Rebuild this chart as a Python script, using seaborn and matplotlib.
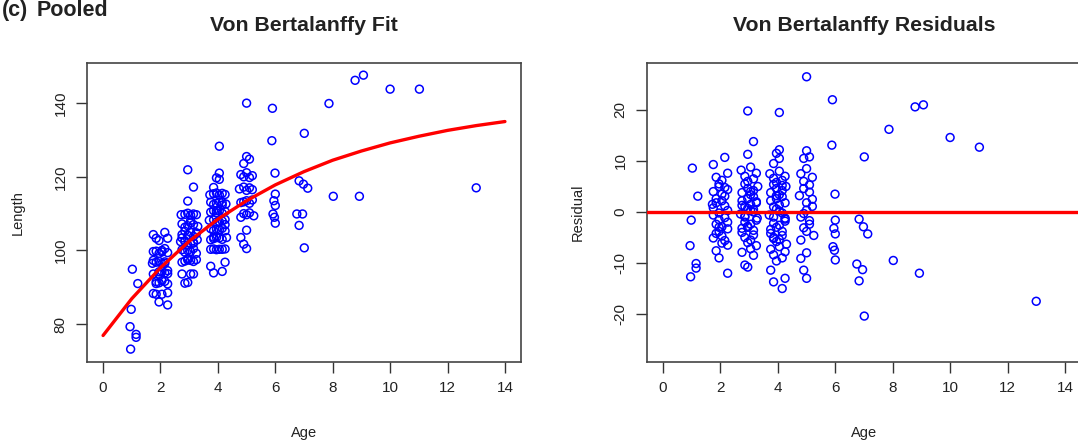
import numpy as np
import pandas as pd
import seaborn as sns
import matplotlib.pyplot as plt

# fish ages (years), one entry per fish
age = [
    1.02, 1.21, 0.98, 0.94, 1.15, 1.15, 0.96,
    2.15, 1.75, 2.25, 1.85, 2.05, 1.95, 1.95, 2.25, 1.75, 2.05, 2.15, 1.85,
    2.05, 1.85, 2.15, 1.75, 2.25, 1.95, 1.75, 2.15, 1.95, 2.25, 1.85, 2.05,
    2.25, 1.95, 1.85, 2.05, 1.75, 2.15, 2.05, 2.25, 1.85, 1.95, 1.72, 2.15, 2.25, 1.95,
    2.95, 3.15, 2.95,
    3.05, 2.72, 3.25, 2.85, 3.15, 2.95, 2.85, 3.3, 2.95, 3.15, 2.75, 3.05,
    3.15, 2.95, 2.75, 3.25, 3.05, 2.85, 2.95, 3.05, 3.15, 2.7, 2.85, 3.28,
    3.25, 2.85, 3.05, 2.95, 2.75, 3.15, 2.75, 3.15, 2.85, 3.05, 2.95, 3.25,
    3.05, 2.75, 3.15, 2.95, 2.85, 3.25, 2.85, 3.05, 2.95, 3.15, 2.75,
    4.05, 4.05, 3.95, 4.05, 3.85,
    4.05, 3.72, 4.25, 3.85, 4.15, 3.95, 3.85, 4.28, 3.95, 4.15, 3.75, 4.05,
    4.15, 3.95, 3.75, 4.25, 4.05, 3.85, 3.95, 4.05, 4.15, 3.7, 3.85, 4.25,
    4.25, 3.85, 4.05, 3.95, 3.75, 4.15, 3.75, 4.15, 3.85, 4.05, 3.95, 4.3,
    4.05, 3.75, 4.25, 3.85, 4.15, 3.95,
    4.15, 3.95, 4.25, 3.85, 3.75, 4.25, 3.85, 4.15,
    5.0, 5.0, 5.1, 4.9,
    5.0, 4.8, 5.2, 4.9, 5.1, 4.9, 5.1, 4.75, 5.2, 5.0,
    5.2, 5.0, 4.9, 4.8, 5.1, 5.1, 4.9, 5.0, 5.25, 4.8,
    5.0, 4.8, 4.9, 5.0,
    5.9, 5.88, 5.99, 6.0, 5.95, 6.0, 5.92, 5.97, 6.0,
    7.01, 6.83, 6.98, 7.13, 6.75, 6.95, 6.83, 7.01,
    7.87, 8.78, 9.07, 10.0, 11.02, 13.0, 8.02, 8.93,
]

length = [
    94.9, 91.0, 84.0, 79.3, 77.2, 76.4, 73.2,
    104.9, 104.3, 103.3, 103.3, 99.6, 102.7, 99.2, 99.4, 99.7, 100.0, 96.5, 99.8,
    96.4, 96.8, 96.9, 97.3, 93.7, 97.0, 93.6, 93.9, 94.2, 94.5, 91.0, 94.3,
    90.9, 91.2, 91.5, 91.8, 88.3, 91.6, 88.1, 88.5, 88.1, 93.5, 96.5, 100.5, 85.2, 86.0,
    121.9, 117.2, 113.4,
    109.6, 109.7, 109.7, 109.8, 109.9, 110.1, 106.3, 106.5, 106.7, 107.0, 107.2, 107.5,
    103.8, 104.1, 104.3, 104.6, 104.9, 105.2, 101.5, 101.8, 102.1, 102.4, 102.6, 102.9,
    99.2, 99.5, 99.7, 100.0, 100.2, 100.5, 96.8, 97.0, 97.1, 97.3, 97.4, 97.5,
    93.6, 93.6, 93.6, 91.3, 91.1, 104.8, 102.4, 108.1, 97.8, 102.0, 103.4,
    128.3, 121.0, 119.7, 119.3, 117.1,
    115.1, 115.1, 115.2, 115.4, 115.5, 115.6, 112.5, 112.6, 112.8, 113.0, 113.1, 113.2,
    110.1, 110.2, 110.4, 110.6, 110.7, 110.8, 107.7, 107.8, 108.0, 108.2, 108.3, 108.4,
    105.3, 105.4, 105.6, 105.8, 105.9, 106.0, 102.9, 103.0, 103.2, 103.4, 103.5, 103.5,
    100.3, 100.3, 100.4, 100.4, 100.3, 100.2,
    112.3, 110.8, 107.0, 103.6, 95.7, 96.8, 93.9, 94.3,
    140.0, 125.5, 124.8, 123.6,
    121.1, 120.6, 120.3, 120.0, 119.8, 117.2, 117.0, 116.7, 116.5, 116.3,
    113.7, 113.5, 113.2, 113.0, 112.8, 110.2, 110.0, 109.7, 109.4, 109.0,
    105.5, 103.5, 101.7, 100.5,
    138.6, 129.8, 121.0, 115.3, 113.5, 112.2, 109.9, 109.0, 107.4,
    131.8, 118.9, 118.0, 116.9, 109.9, 109.9, 106.8, 100.7,
    139.9, 146.2, 147.6, 143.8, 143.8, 117.0, 114.7, 114.7,
]

resid = [
    8.6, 3.1, -1.6, -6.6, -10.1, -11.0, -12.7,
    10.7, 9.3, 7.6, 6.8, 6.2, 5.5, 5.0, 4.4, 4.0, 3.5, 3.1, 2.6,
    2.2, 1.8, 1.2, 0.8, 0.3, -0.2, -0.6, -1.1, -1.5, -2.0, -2.4, -2.9,
    -3.3, -3.8, -4.2, -4.7, -5.1, -5.6, -6.1, -6.5, -7.6, -3.0, 1.5, 4.8, -12.0, -9.0,
    19.8, 13.8, 11.3,
    8.8, 8.2, 7.6, 7.0, 6.5, 6.0, 5.5, 5.0, 4.6, 4.2, 3.8, 3.4,
    3.0, 2.6, 2.2, 1.8, 1.5, 1.1, 0.7, 0.3, 0.0, -0.4, -0.8, -1.2,
    -1.6, -2.0, -2.4, -2.8, -3.2, -3.6, -4.0, -4.5, -5.0, -5.5, -6.0, -6.6,
    -7.2, -7.9, -8.5, -10.8, -10.4, 2.0, -1.0, 4.0, -3.0, 0.5, 1.3,
    19.5, 12.2, 11.5, 10.5, 9.5,
    8.0, 7.5, 7.0, 6.6, 6.2, 5.8, 5.4, 5.0, 4.6, 4.2, 3.8, 3.4,
    3.0, 2.6, 2.2, 1.8, 1.4, 1.0, 0.6, 0.2, -0.2, -0.6, -1.0, -1.4,
    -1.8, -2.2, -2.6, -3.0, -3.4, -3.8, -4.2, -4.6, -5.0, -5.4, -5.8, -6.3,
    -6.8, -7.3, -7.8, -8.4, -9.0, -9.6,
    5.2, 3.2, -1.2, -5.2, -11.4, -13.0, -13.7, -15.0,
    26.5, 12.0, 10.8, 10.5,
    8.5, 7.5, 6.8, 6.0, 5.3, 4.6, 3.9, 3.2, 2.5, 1.8,
    1.1, 0.4, -0.3, -1.0, -1.7, -2.4, -3.1, -3.8, -4.6, -5.5,
    -8.0, -9.1, -11.4, -13.0,
    22.0, 13.1, 3.5, -1.6, -3.2, -4.3, -6.8, -7.5, -9.4,
    10.8, -1.4, -2.9, -4.3, -10.2, -11.3, -13.5, -20.4,
    16.2, 20.6, 21.0, 14.6, 12.7, -17.5, -9.5, -12.0,
]

# fitted von Bertalanffy curve, read at whole years
curve_age = [0, 1, 2, 3, 4, 5, 6, 7, 8, 9, 10, 11, 12, 13, 14]
curve_len = [76.9, 86.9, 95.3, 102.5, 108.5, 113.5, 117.8, 121.4,
             124.5, 127.0, 129.2, 131.0, 132.6, 133.9, 135.0]

age_ticks = [0, 2, 4, 6, 8, 10, 12, 14]
len_ticks = [80, 100, 120, 140]
res_ticks = [-20, -10, 0, 10, 20]

df = pd.DataFrame({'Age': age, 'Length': length, 'Residual': resid})
fit = pd.DataFrame({'Age': curve_age, 'Length': curve_len})

sns.set_style('white')
plt.rcParams['font.family'] = ['Liberation Sans', 'DejaVu Sans']

W, H = 1078, 443
fig = plt.figure(figsize=(W / 100, H / 100), dpi=100)
ax1 = fig.add_axes([87 / W, 1 - 362 / H, 434 / W, 299 / H])
ax2 = fig.add_axes([647 / W, 1 - 362 / H, 434 / W, 299 / H])

sns.scatterplot(data=df, x='Age', y='Length', ax=ax1, s=32, linewidth=1.1, zorder=2)
sns.lineplot(data=fit, x='Age', y='Length', ax=ax1, color='red', lw=2.4, zorder=3)

sns.scatterplot(data=df, x='Age', y='Residual', ax=ax2, s=32, linewidth=1.1, zorder=2)
ax2.axhline(0, color='red', lw=2.4, zorder=3)

for ax in (ax1, ax2):
    pts = ax.collections[0]
    pts.set_facecolor('none')
    pts.set_edgecolor('blue')
    ax.set_xlim(-0.56, 14.56)
    ax.set_xticks(age_ticks)
    ax.set_xlabel('Age', fontsize=10.5, color='#222')
    ax.xaxis.set_label_coords(0.5, -0.237)
    ax.xaxis.label.set_va('center')
    ax.yaxis.set_label_coords(-0.159, 0.5)
    ax.yaxis.label.set_va('center')
    for sp in ax.spines.values():
        sp.set_color('#444')
        sp.set_linewidth(1.2)
    ax.tick_params(direction='out', length=8, width=1, color='#333',
                   labelsize=11, labelcolor='#222', pad=6,
                   left=True, bottom=True)

ax1.set_ylim(69.7, 150.9)
ax1.set_yticks(len_ticks, [str(v) for v in len_ticks], rotation=90, va='center')
ax1.set_ylabel('Length', fontsize=10.5, color='#222')

ax2.set_ylim(-29.4, 29.2)
ax2.set_yticks(res_ticks, [str(v) for v in res_ticks], rotation=90, va='center')
ax2.set_ylabel('Residual', fontsize=10.5, color='#222')

ax1.text(0.5, 1.127, 'Von Bertalanffy Fit', transform=ax1.transAxes,
         ha='center', va='center', fontsize=15.3, fontweight='bold', color='#222')
ax2.text(0.5, 1.127, 'Von Bertalanffy Residuals', transform=ax2.transAxes,
         ha='center', va='center', fontsize=15.3, fontweight='bold', color='#222')

fig.text(2 / W, 1 - 16 / H, '(c)', ha='left', va='baseline',
         fontsize=15.5, fontweight='bold', color='#222')
fig.text(37 / W, 1 - 16 / H, 'Pooled', ha='left', va='baseline',
         fontsize=15.5, fontweight='bold', color='#222')

fig.savefig('out.png', dpi=100)
